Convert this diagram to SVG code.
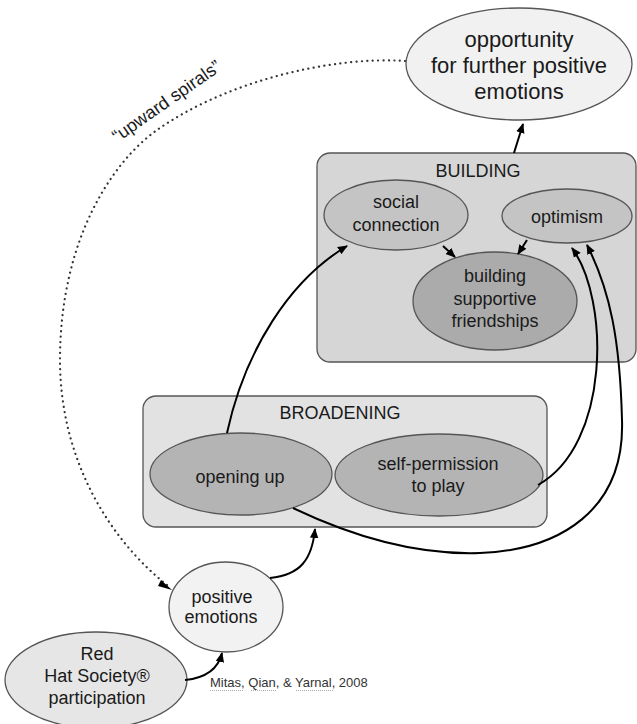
<svg xmlns="http://www.w3.org/2000/svg" width="637" height="724" viewBox="0 0 637 724">
<defs>
<style>
text{font-family:"Liberation Sans",Arial,sans-serif;fill:#1a1a1a;text-anchor:middle}
.lbl{font-size:18px}
.big{font-size:22px}
.nd{stroke:#555;stroke-width:1.3}
.cn{fill:none;stroke:#000;stroke-width:2}
.dot{fill:none;stroke:#333;stroke-width:2.2;stroke-linecap:round;stroke-dasharray:0.1 5.3}
</style>
<marker id="ah" viewBox="0 0 10 10" refX="9" refY="5" markerWidth="10" markerHeight="10" markerUnits="userSpaceOnUse" orient="auto">
<path d="M0,0.8 L10,5 L0,9.2 Z" fill="#000"/>
</marker>
</defs>
<rect width="637" height="724" fill="#fff"/>

<g id="building-group">
<rect x="317" y="153" width="319" height="209" rx="13" fill="#d6d6d6" class="nd"/>
<text class="lbl" x="478" y="177">BUILDING</text>
</g>
<g id="broadening-group">
<rect x="143" y="396" width="404" height="131" rx="13" fill="#e2e2e2" class="nd"/>
<text class="lbl" x="340" y="419">BROADENING</text>
</g>

<g id="opportunity">
<ellipse cx="519" cy="64" rx="113" ry="56" fill="#f1f1f1" class="nd"/>
<text class="big" x="519" y="47">opportunity</text>
<text class="big" x="519" y="73">for further positive</text>
<text class="big" x="519" y="99">emotions</text>
</g>
<g id="social-connection">
<ellipse cx="396" cy="215" rx="72" ry="35" fill="#c4c4c4" class="nd"/>
<text class="lbl" x="396" y="208">social</text>
<text class="lbl" x="396" y="231">connection</text>
</g>
<g id="optimism">
<ellipse cx="567" cy="216" rx="65" ry="27" fill="#c4c4c4" class="nd"/>
<text class="lbl" x="567" y="223">optimism</text>
</g>
<g id="building-supportive-friendships">
<ellipse cx="495" cy="301" rx="82" ry="49" fill="#ababab" class="nd"/>
<text class="lbl" x="495" y="282">building</text>
<text class="lbl" x="495" y="305">supportive</text>
<text class="lbl" x="495" y="327">friendships</text>
</g>
<g id="opening-up">
<ellipse cx="241" cy="474" rx="91" ry="41" fill="#b4b4b4" class="nd"/>
<text class="lbl" x="240" y="483">opening up</text>
</g>
<g id="self-permission">
<ellipse cx="439" cy="475" rx="104" ry="41" fill="#b4b4b4" class="nd"/>
<text class="lbl" x="438" y="470">self-permission</text>
<text class="lbl" x="438" y="492">to play</text>
</g>
<g id="positive-emotions">
<ellipse cx="226" cy="607" rx="57" ry="45" fill="#f2f2f2" class="nd"/>
<text class="lbl" x="222" y="603">positive</text>
<text class="lbl" x="221" y="623">emotions</text>
</g>
<g id="red-hat">
<ellipse cx="96" cy="680" rx="91" ry="48" fill="#e6e6e6" class="nd"/>
<text class="lbl" x="97" y="660">Red</text>
<text class="lbl" x="97" y="682">Hat Society®</text>
<text class="lbl" x="97" y="704">participation</text>
</g>

<g id="connectors">
<path class="dot" d="M405,61 C330,56 225,82 157,130 C112,162 60,240 60,360 C60,460 110,540 167,585"/>
<path d="M161,580 L172,590 L158,586 Z" fill="#000"/>
<path class="cn" d="M514,153 L523,124" marker-end="url(#ah)"/>
<path class="cn" d="M227,433 C245,350 290,280 347,246" marker-end="url(#ah)"/>
<path class="cn" d="M443,246 L455,257" marker-end="url(#ah)"/>
<path class="cn" d="M527,240 L518,254" marker-end="url(#ah)"/>
<path class="cn" d="M538,485 C610,445 610,300 572,248" marker-end="url(#ah)"/>
<path class="cn" d="M293,508 C360,540 420,555 480,553 C560,550 625,510 622,420 C620,340 610,290 587,245" marker-end="url(#ah)"/>
<path class="cn" d="M270,578 C300,575 312,560 315,529" marker-end="url(#ah)"/>
<path class="cn" d="M185,680 C205,678 218,670 222,653" marker-end="url(#ah)"/>
</g>

<g id="labels">
<text x="170" y="106" transform="rotate(-35 170 106)" style="font-size:18px">“upward spirals”</text>
<text x="210" y="687" style="font-size:13px;text-anchor:start;fill:#333">Mitas, Qian, &amp; Yarnal, 2008</text>
<g stroke="#aaa" stroke-width="1" stroke-dasharray="1 1">
<line x1="210" y1="690.5" x2="243" y2="690.5"/>
<line x1="251" y1="690.5" x2="276" y2="690.5"/>
<line x1="296" y1="690.5" x2="334" y2="690.5"/>
</g>
</g>
</svg>
